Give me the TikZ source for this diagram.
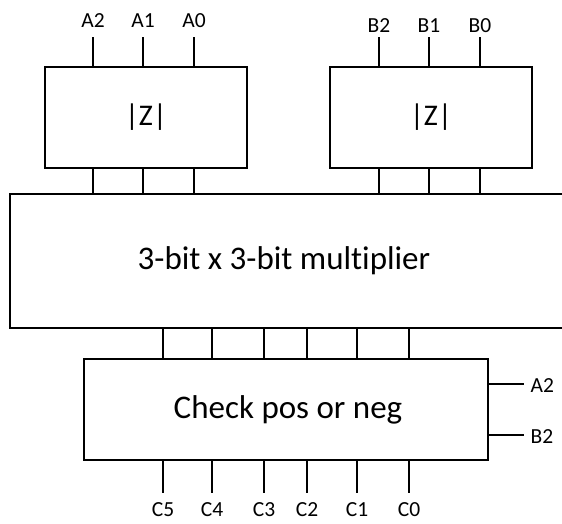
\documentclass[tikz,border=0pt]{standalone}
\usepackage{fontspec}
\setmainfont{Carlito}[Ligatures={NoCommon}]
\begin{document}
\begin{tikzpicture}[x=1pt,y=-1pt,line width=1.4pt,
  blk/.style={draw,rectangle,inner sep=0pt},
  pinlabel/.style={font=\fontsize{21.5}{21.5}\selectfont,inner sep=0pt},
  bigtext/.style={font=\fontsize{33}{33}\selectfont},
  abstext/.style={font=\fontsize{30}{30}\selectfont}]
\useasboundingbox (0,0) rectangle (562,523);
\clip (0,0) rectangle (562,523);

% blocks
\node[blk,minimum width=202pt,minimum height=101pt,abstext] (absA) at (146,117.5) {|Z|};
\node[blk,minimum width=202pt,minimum height=101pt,abstext] (absB) at (431,117.5) {|Z|};
\node[blk,minimum width=556pt,minimum height=134pt,bigtext] (mult) at (288,261)
  {\hspace*{-8pt}\raisebox{-3pt}{3-bit x 3-bit multiplier}};
\node[blk,minimum width=404pt,minimum height=101pt,bigtext] (sign) at (286,409.5)
  {\hspace*{4pt}\raisebox{-3pt}{Check pos or neg}};

% input labels and wire ends of |Z| for A
\foreach \n/\x in {2/93,1/143,0/194}{
  \node[pinlabel,anchor=base] (lA\n) at (\x,27) {A\n};
  \coordinate (pA\n) at (\x,37);
  \draw (pA\n) -- (pA\n |- absA.north);
  \draw (absA.south -| pA\n) -- (mult.north -| pA\n);
}
% input labels and wire ends of |Z| for B
\foreach \n/\x in {2/379,1/429,0/480}{
  \node[pinlabel,anchor=base] (lB\n) at (\x,32) {B\n};
  \coordinate (pB\n) at (\x,37);
  \draw (pB\n) -- (pB\n |- absB.north);
  \draw (absB.south -| pB\n) -- (mult.north -| pB\n);
}
% product bits into the sign stage, and outputs
\foreach \n/\x in {5/163,4/212,3/264,2/307,1/357,0/409}{
  \coordinate (pC\n) at (\x,493);
  \draw (mult.south -| pC\n) -- (sign.north -| pC\n);
  \draw (sign.south -| pC\n) -- (pC\n);
  \node[pinlabel,anchor=base] (lC\n) at (\x,516) {C\n};
}
% sign bits on the right
\coordinate (sA) at (524,384);
\coordinate (sB) at (524,435);
\draw (sign.east |- sA) -- (sA);
\draw (sign.east |- sB) -- (sB);
\node[pinlabel,anchor=base west] (lsA) at (530,392) {A2};
\node[pinlabel,anchor=base west] (lsB) at (530,443) {B2};
\end{tikzpicture}
\end{document}
